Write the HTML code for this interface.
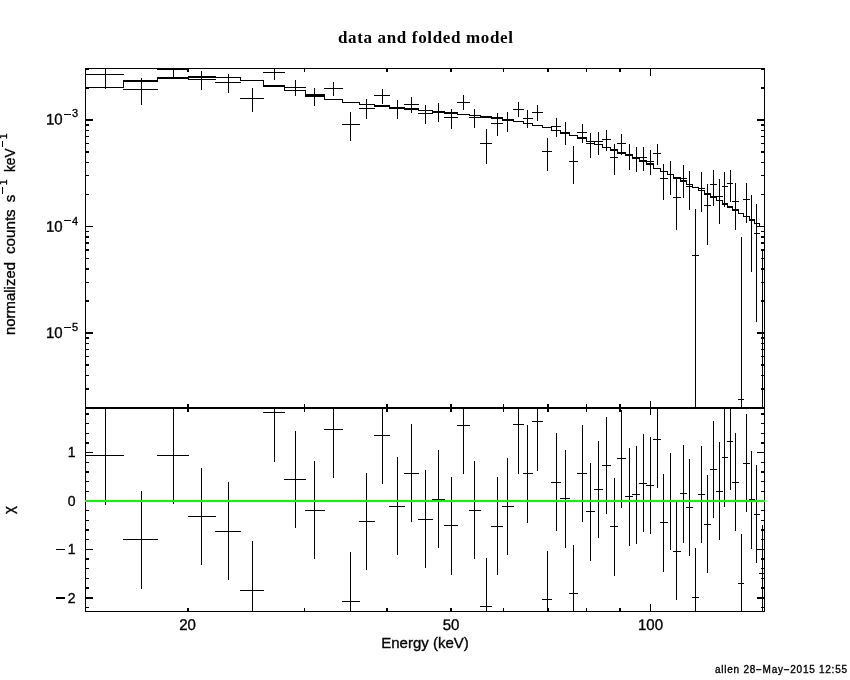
<!DOCTYPE html><html><head><meta charset="utf-8"><title>data and folded model</title>
<style>html,body{margin:0;padding:0;background:#fff;overflow:hidden}svg{display:block}text{font-family:"Liberation Sans",sans-serif;fill:#000}</style></head><body>
<svg width="850" height="680" viewBox="0 0 850 680">
<rect x="0" y="0" width="850" height="680" fill="#fff"/>
<g shape-rendering="crispEdges">
<rect x="85" y="68" width="680" height="1"/>
<rect x="85" y="611" width="680" height="1"/>
<rect x="85" y="68" width="1" height="544"/>
<rect x="764" y="68" width="1" height="544"/>
<rect x="85" y="407" width="680" height="2"/>
<rect x="105" y="68" width="1" height="21"/>
<rect x="85" y="74" width="39" height="1"/>
<rect x="141" y="78" width="1" height="27"/>
<rect x="123" y="89" width="35" height="1"/>
<rect x="173" y="68" width="1" height="10"/>
<rect x="157" y="69" width="32" height="1"/>
<rect x="201" y="71" width="1" height="19"/>
<rect x="188" y="79" width="28" height="1"/>
<rect x="228" y="74" width="1" height="19"/>
<rect x="215" y="82" width="26" height="1"/>
<rect x="252" y="88" width="1" height="24"/>
<rect x="240" y="98" width="24" height="1"/>
<rect x="274" y="68" width="1" height="12"/>
<rect x="263" y="72" width="22" height="1"/>
<rect x="295" y="80" width="1" height="16"/>
<rect x="284" y="87" width="22" height="1"/>
<rect x="314" y="88" width="1" height="18"/>
<rect x="305" y="96" width="20" height="1"/>
<rect x="333" y="82" width="1" height="14"/>
<rect x="324" y="88" width="19" height="1"/>
<rect x="350" y="112" width="1" height="29"/>
<rect x="342" y="124" width="18" height="1"/>
<rect x="366" y="99" width="1" height="20"/>
<rect x="359" y="108" width="16" height="1"/>
<rect x="382" y="89" width="1" height="15"/>
<rect x="374" y="95" width="16" height="1"/>
<rect x="397" y="100" width="1" height="19"/>
<rect x="389" y="108" width="16" height="1"/>
<rect x="411" y="97" width="1" height="16"/>
<rect x="404" y="104" width="15" height="1"/>
<rect x="425" y="105" width="1" height="19"/>
<rect x="418" y="113" width="15" height="1"/>
<rect x="438" y="103" width="1" height="19"/>
<rect x="432" y="111" width="13" height="1"/>
<rect x="451" y="109" width="1" height="20"/>
<rect x="444" y="117" width="14" height="1"/>
<rect x="463" y="95" width="1" height="15"/>
<rect x="457" y="102" width="13" height="1"/>
<rect x="474" y="109" width="1" height="19"/>
<rect x="469" y="117" width="12" height="1"/>
<rect x="486" y="129" width="1" height="35"/>
<rect x="480" y="143" width="12" height="1"/>
<rect x="497" y="113" width="1" height="23"/>
<rect x="491" y="123" width="12" height="1"/>
<rect x="507" y="112" width="1" height="20"/>
<rect x="502" y="120" width="12" height="1"/>
<rect x="518" y="102" width="1" height="15"/>
<rect x="513" y="109" width="11" height="1"/>
<rect x="527" y="110" width="1" height="18"/>
<rect x="523" y="118" width="10" height="1"/>
<rect x="537" y="105" width="1" height="16"/>
<rect x="532" y="112" width="11" height="1"/>
<rect x="547" y="138" width="1" height="33"/>
<rect x="542" y="151" width="10" height="1"/>
<rect x="556" y="118" width="1" height="19"/>
<rect x="551" y="126" width="10" height="1"/>
<rect x="565" y="122" width="1" height="23"/>
<rect x="560" y="133" width="10" height="1"/>
<rect x="573" y="146" width="1" height="38"/>
<rect x="569" y="161" width="9" height="1"/>
<rect x="582" y="124" width="1" height="19"/>
<rect x="577" y="132" width="10" height="1"/>
<rect x="590" y="133" width="1" height="25"/>
<rect x="586" y="143" width="9" height="1"/>
<rect x="598" y="132" width="1" height="23"/>
<rect x="594" y="141" width="9" height="1"/>
<rect x="606" y="130" width="1" height="21"/>
<rect x="602" y="139" width="9" height="1"/>
<rect x="614" y="144" width="1" height="31"/>
<rect x="610" y="157" width="8" height="1"/>
<rect x="621" y="134" width="1" height="21"/>
<rect x="617" y="143" width="9" height="1"/>
<rect x="629" y="144" width="1" height="26"/>
<rect x="625" y="155" width="8" height="1"/>
<rect x="636" y="147" width="1" height="25"/>
<rect x="632" y="158" width="8" height="1"/>
<rect x="643" y="147" width="1" height="24"/>
<rect x="639" y="157" width="8" height="1"/>
<rect x="650" y="150" width="1" height="25"/>
<rect x="646" y="161" width="8" height="1"/>
<rect x="657" y="144" width="1" height="21"/>
<rect x="653" y="153" width="8" height="1"/>
<rect x="663" y="164" width="1" height="36"/>
<rect x="660" y="178" width="8" height="1"/>
<rect x="670" y="161" width="1" height="34"/>
<rect x="667" y="174" width="7" height="1"/>
<rect x="676" y="178" width="1" height="52"/>
<rect x="673" y="197" width="8" height="1"/>
<rect x="683" y="165" width="1" height="33"/>
<rect x="680" y="178" width="7" height="1"/>
<rect x="689" y="171" width="1" height="39"/>
<rect x="686" y="186" width="7" height="1"/>
<rect x="695" y="209" width="1" height="198"/>
<rect x="692" y="255" width="7" height="1"/>
<rect x="701" y="172" width="1" height="40"/>
<rect x="698" y="188" width="7" height="1"/>
<rect x="707" y="184" width="1" height="61"/>
<rect x="704" y="205" width="7" height="1"/>
<rect x="713" y="170" width="1" height="36"/>
<rect x="710" y="184" width="7" height="1"/>
<rect x="719" y="179" width="1" height="45"/>
<rect x="716" y="196" width="7" height="1"/>
<rect x="724" y="172" width="1" height="35"/>
<rect x="722" y="186" width="6" height="1"/>
<rect x="730" y="170" width="1" height="32"/>
<rect x="727" y="183" width="6" height="1"/>
<rect x="735" y="183" width="1" height="47"/>
<rect x="732" y="201" width="7" height="1"/>
<rect x="741" y="237" width="1" height="170"/>
<rect x="738" y="399" width="6" height="1"/>
<rect x="746" y="183" width="1" height="40"/>
<rect x="743" y="199" width="7" height="1"/>
<rect x="751" y="195" width="1" height="77"/>
<rect x="749" y="220" width="6" height="1"/>
<rect x="756" y="204" width="1" height="118"/>
<rect x="754" y="233" width="6" height="1"/>
<rect x="762" y="249" width="1" height="158"/>
<rect x="85" y="87" width="39" height="1"/>
<rect x="123" y="80" width="35" height="2"/>
<rect x="123" y="80" width="1" height="8"/>
<rect x="157" y="77" width="32" height="2"/>
<rect x="157" y="77" width="1" height="5"/>
<rect x="188" y="76" width="28" height="2"/>
<rect x="188" y="76" width="1" height="3"/>
<rect x="215" y="77" width="26" height="1"/>
<rect x="215" y="76" width="1" height="2"/>
<rect x="240" y="80" width="24" height="1"/>
<rect x="240" y="77" width="1" height="4"/>
<rect x="263" y="85" width="22" height="2"/>
<rect x="263" y="80" width="1" height="7"/>
<rect x="284" y="90" width="22" height="1"/>
<rect x="284" y="85" width="1" height="6"/>
<rect x="305" y="94" width="20" height="2"/>
<rect x="305" y="90" width="1" height="6"/>
<rect x="324" y="99" width="19" height="1"/>
<rect x="324" y="94" width="1" height="6"/>
<rect x="342" y="102" width="18" height="1"/>
<rect x="342" y="99" width="1" height="4"/>
<rect x="359" y="104" width="16" height="1"/>
<rect x="359" y="102" width="1" height="3"/>
<rect x="374" y="105" width="16" height="2"/>
<rect x="374" y="104" width="1" height="3"/>
<rect x="389" y="107" width="16" height="2"/>
<rect x="389" y="105" width="1" height="4"/>
<rect x="404" y="108" width="15" height="2"/>
<rect x="404" y="107" width="1" height="3"/>
<rect x="418" y="110" width="15" height="1"/>
<rect x="418" y="108" width="1" height="3"/>
<rect x="432" y="111" width="13" height="2"/>
<rect x="432" y="110" width="1" height="3"/>
<rect x="444" y="112" width="14" height="2"/>
<rect x="444" y="111" width="1" height="3"/>
<rect x="457" y="114" width="13" height="1"/>
<rect x="457" y="112" width="1" height="3"/>
<rect x="469" y="115" width="12" height="1"/>
<rect x="469" y="114" width="1" height="2"/>
<rect x="480" y="116" width="12" height="2"/>
<rect x="480" y="115" width="1" height="3"/>
<rect x="491" y="117" width="12" height="2"/>
<rect x="491" y="116" width="1" height="3"/>
<rect x="502" y="119" width="12" height="2"/>
<rect x="502" y="117" width="1" height="4"/>
<rect x="513" y="121" width="11" height="1"/>
<rect x="513" y="119" width="1" height="3"/>
<rect x="523" y="123" width="10" height="1"/>
<rect x="523" y="121" width="1" height="3"/>
<rect x="532" y="125" width="11" height="1"/>
<rect x="532" y="123" width="1" height="3"/>
<rect x="542" y="127" width="10" height="1"/>
<rect x="542" y="125" width="1" height="3"/>
<rect x="551" y="130" width="10" height="1"/>
<rect x="551" y="127" width="1" height="4"/>
<rect x="560" y="132" width="10" height="2"/>
<rect x="560" y="130" width="1" height="4"/>
<rect x="569" y="135" width="9" height="1"/>
<rect x="569" y="132" width="1" height="4"/>
<rect x="577" y="137" width="10" height="2"/>
<rect x="577" y="135" width="1" height="4"/>
<rect x="586" y="141" width="9" height="1"/>
<rect x="586" y="137" width="1" height="5"/>
<rect x="594" y="144" width="9" height="1"/>
<rect x="594" y="141" width="1" height="4"/>
<rect x="602" y="147" width="9" height="1"/>
<rect x="602" y="144" width="1" height="4"/>
<rect x="610" y="149" width="8" height="2"/>
<rect x="610" y="147" width="1" height="4"/>
<rect x="617" y="152" width="9" height="2"/>
<rect x="617" y="149" width="1" height="5"/>
<rect x="625" y="154" width="8" height="2"/>
<rect x="625" y="152" width="1" height="4"/>
<rect x="632" y="157" width="8" height="2"/>
<rect x="632" y="154" width="1" height="5"/>
<rect x="639" y="160" width="8" height="2"/>
<rect x="639" y="157" width="1" height="5"/>
<rect x="646" y="163" width="8" height="2"/>
<rect x="646" y="160" width="1" height="5"/>
<rect x="653" y="168" width="8" height="1"/>
<rect x="653" y="163" width="1" height="6"/>
<rect x="660" y="171" width="8" height="1"/>
<rect x="660" y="168" width="1" height="4"/>
<rect x="667" y="174" width="7" height="1"/>
<rect x="667" y="171" width="1" height="4"/>
<rect x="673" y="177" width="8" height="2"/>
<rect x="673" y="174" width="1" height="5"/>
<rect x="680" y="180" width="7" height="2"/>
<rect x="680" y="177" width="1" height="5"/>
<rect x="686" y="184" width="7" height="1"/>
<rect x="686" y="180" width="1" height="5"/>
<rect x="692" y="187" width="7" height="1"/>
<rect x="692" y="184" width="1" height="4"/>
<rect x="698" y="190" width="7" height="1"/>
<rect x="698" y="187" width="1" height="4"/>
<rect x="704" y="193" width="7" height="2"/>
<rect x="704" y="190" width="1" height="5"/>
<rect x="710" y="196" width="7" height="2"/>
<rect x="710" y="193" width="1" height="5"/>
<rect x="716" y="200" width="7" height="1"/>
<rect x="716" y="196" width="1" height="5"/>
<rect x="722" y="203" width="6" height="2"/>
<rect x="722" y="200" width="1" height="5"/>
<rect x="727" y="206" width="6" height="2"/>
<rect x="727" y="203" width="1" height="5"/>
<rect x="732" y="209" width="7" height="2"/>
<rect x="732" y="206" width="1" height="5"/>
<rect x="738" y="213" width="6" height="1"/>
<rect x="738" y="209" width="1" height="5"/>
<rect x="743" y="216" width="7" height="1"/>
<rect x="743" y="213" width="1" height="4"/>
<rect x="749" y="219" width="6" height="2"/>
<rect x="749" y="216" width="1" height="5"/>
<rect x="754" y="223" width="6" height="1"/>
<rect x="754" y="219" width="1" height="5"/>
<rect x="759" y="226" width="6" height="1"/>
<rect x="759" y="223" width="1" height="4"/>
<rect x="105" y="408" width="1" height="97"/>
<rect x="85" y="455" width="39" height="1"/>
<rect x="141" y="491" width="1" height="98"/>
<rect x="123" y="539" width="35" height="1"/>
<rect x="173" y="408" width="1" height="96"/>
<rect x="157" y="455" width="32" height="1"/>
<rect x="201" y="468" width="1" height="97"/>
<rect x="188" y="516" width="28" height="1"/>
<rect x="228" y="482" width="1" height="98"/>
<rect x="215" y="531" width="26" height="1"/>
<rect x="252" y="541" width="1" height="71"/>
<rect x="240" y="590" width="24" height="1"/>
<rect x="274" y="408" width="1" height="54"/>
<rect x="263" y="412" width="22" height="1"/>
<rect x="295" y="431" width="1" height="97"/>
<rect x="284" y="479" width="22" height="1"/>
<rect x="314" y="461" width="1" height="98"/>
<rect x="305" y="510" width="20" height="1"/>
<rect x="333" y="408" width="1" height="70"/>
<rect x="324" y="429" width="19" height="1"/>
<rect x="350" y="552" width="1" height="60"/>
<rect x="342" y="601" width="18" height="1"/>
<rect x="366" y="473" width="1" height="97"/>
<rect x="359" y="521" width="16" height="1"/>
<rect x="382" y="408" width="1" height="76"/>
<rect x="374" y="435" width="16" height="1"/>
<rect x="397" y="457" width="1" height="98"/>
<rect x="389" y="506" width="16" height="1"/>
<rect x="411" y="424" width="1" height="98"/>
<rect x="404" y="473" width="15" height="1"/>
<rect x="425" y="470" width="1" height="98"/>
<rect x="418" y="519" width="15" height="1"/>
<rect x="438" y="450" width="1" height="98"/>
<rect x="432" y="499" width="13" height="1"/>
<rect x="451" y="477" width="1" height="98"/>
<rect x="444" y="525" width="14" height="1"/>
<rect x="463" y="408" width="1" height="66"/>
<rect x="457" y="425" width="13" height="1"/>
<rect x="474" y="461" width="1" height="98"/>
<rect x="469" y="510" width="12" height="1"/>
<rect x="486" y="558" width="1" height="54"/>
<rect x="480" y="606" width="12" height="1"/>
<rect x="497" y="477" width="1" height="98"/>
<rect x="491" y="526" width="12" height="1"/>
<rect x="507" y="458" width="1" height="97"/>
<rect x="502" y="506" width="12" height="1"/>
<rect x="518" y="408" width="1" height="66"/>
<rect x="513" y="424" width="11" height="1"/>
<rect x="527" y="425" width="1" height="98"/>
<rect x="523" y="473" width="10" height="1"/>
<rect x="537" y="408" width="1" height="63"/>
<rect x="532" y="421" width="11" height="1"/>
<rect x="547" y="551" width="1" height="61"/>
<rect x="542" y="599" width="10" height="1"/>
<rect x="556" y="433" width="1" height="98"/>
<rect x="551" y="482" width="10" height="1"/>
<rect x="565" y="450" width="1" height="98"/>
<rect x="560" y="498" width="10" height="1"/>
<rect x="573" y="545" width="1" height="67"/>
<rect x="569" y="593" width="9" height="1"/>
<rect x="582" y="425" width="1" height="97"/>
<rect x="577" y="473" width="10" height="1"/>
<rect x="590" y="463" width="1" height="98"/>
<rect x="586" y="511" width="9" height="1"/>
<rect x="598" y="441" width="1" height="97"/>
<rect x="594" y="489" width="9" height="1"/>
<rect x="606" y="417" width="1" height="97"/>
<rect x="602" y="465" width="9" height="1"/>
<rect x="614" y="478" width="1" height="98"/>
<rect x="610" y="526" width="8" height="1"/>
<rect x="621" y="410" width="1" height="98"/>
<rect x="617" y="458" width="9" height="1"/>
<rect x="629" y="448" width="1" height="98"/>
<rect x="625" y="496" width="8" height="1"/>
<rect x="636" y="446" width="1" height="98"/>
<rect x="632" y="494" width="8" height="1"/>
<rect x="643" y="434" width="1" height="98"/>
<rect x="639" y="483" width="8" height="1"/>
<rect x="650" y="437" width="1" height="97"/>
<rect x="646" y="485" width="8" height="1"/>
<rect x="657" y="408" width="1" height="80"/>
<rect x="653" y="439" width="8" height="1"/>
<rect x="663" y="474" width="1" height="98"/>
<rect x="660" y="522" width="8" height="1"/>
<rect x="670" y="453" width="1" height="97"/>
<rect x="667" y="501" width="7" height="1"/>
<rect x="676" y="502" width="1" height="98"/>
<rect x="673" y="551" width="8" height="1"/>
<rect x="683" y="445" width="1" height="98"/>
<rect x="680" y="493" width="7" height="1"/>
<rect x="689" y="459" width="1" height="97"/>
<rect x="686" y="507" width="7" height="1"/>
<rect x="695" y="548" width="1" height="64"/>
<rect x="692" y="597" width="7" height="1"/>
<rect x="701" y="446" width="1" height="97"/>
<rect x="698" y="494" width="7" height="1"/>
<rect x="707" y="475" width="1" height="98"/>
<rect x="704" y="524" width="7" height="1"/>
<rect x="713" y="421" width="1" height="97"/>
<rect x="710" y="469" width="7" height="1"/>
<rect x="719" y="442" width="1" height="98"/>
<rect x="716" y="491" width="7" height="1"/>
<rect x="724" y="409" width="1" height="98"/>
<rect x="722" y="457" width="6" height="1"/>
<rect x="730" y="408" width="1" height="82"/>
<rect x="727" y="441" width="6" height="1"/>
<rect x="735" y="433" width="1" height="98"/>
<rect x="732" y="482" width="7" height="1"/>
<rect x="741" y="534" width="1" height="78"/>
<rect x="738" y="583" width="6" height="1"/>
<rect x="746" y="414" width="1" height="98"/>
<rect x="743" y="463" width="7" height="1"/>
<rect x="751" y="451" width="1" height="98"/>
<rect x="749" y="499" width="6" height="1"/>
<rect x="756" y="465" width="1" height="98"/>
<rect x="754" y="514" width="6" height="1"/>
<rect x="762" y="525" width="1" height="87"/>
<rect x="759" y="573" width="6" height="1"/>
<rect x="85" y="388" width="4" height="2"/>
<rect x="761" y="388" width="4" height="2"/>
<rect x="85" y="375" width="4" height="1"/>
<rect x="761" y="375" width="4" height="1"/>
<rect x="85" y="364" width="4" height="2"/>
<rect x="761" y="364" width="4" height="2"/>
<rect x="85" y="356" width="4" height="1"/>
<rect x="761" y="356" width="4" height="1"/>
<rect x="85" y="349" width="4" height="1"/>
<rect x="761" y="349" width="4" height="1"/>
<rect x="85" y="343" width="4" height="1"/>
<rect x="761" y="343" width="4" height="1"/>
<rect x="85" y="337" width="4" height="2"/>
<rect x="761" y="337" width="4" height="2"/>
<rect x="85" y="332" width="8" height="2"/>
<rect x="757" y="332" width="8" height="2"/>
<rect x="85" y="300" width="4" height="2"/>
<rect x="761" y="300" width="4" height="2"/>
<rect x="85" y="282" width="4" height="1"/>
<rect x="761" y="282" width="4" height="1"/>
<rect x="85" y="268" width="4" height="2"/>
<rect x="761" y="268" width="4" height="2"/>
<rect x="85" y="258" width="4" height="1"/>
<rect x="761" y="258" width="4" height="1"/>
<rect x="85" y="249" width="4" height="2"/>
<rect x="761" y="249" width="4" height="2"/>
<rect x="85" y="242" width="4" height="2"/>
<rect x="761" y="242" width="4" height="2"/>
<rect x="85" y="236" width="4" height="2"/>
<rect x="761" y="236" width="4" height="2"/>
<rect x="85" y="231" width="4" height="1"/>
<rect x="761" y="231" width="4" height="1"/>
<rect x="85" y="226" width="8" height="1"/>
<rect x="757" y="226" width="8" height="1"/>
<rect x="85" y="194" width="4" height="1"/>
<rect x="761" y="194" width="4" height="1"/>
<rect x="85" y="175" width="4" height="1"/>
<rect x="761" y="175" width="4" height="1"/>
<rect x="85" y="162" width="4" height="1"/>
<rect x="761" y="162" width="4" height="1"/>
<rect x="85" y="151" width="4" height="2"/>
<rect x="761" y="151" width="4" height="2"/>
<rect x="85" y="143" width="4" height="1"/>
<rect x="761" y="143" width="4" height="1"/>
<rect x="85" y="136" width="4" height="1"/>
<rect x="761" y="136" width="4" height="1"/>
<rect x="85" y="130" width="4" height="1"/>
<rect x="761" y="130" width="4" height="1"/>
<rect x="85" y="124" width="4" height="2"/>
<rect x="761" y="124" width="4" height="2"/>
<rect x="85" y="119" width="8" height="2"/>
<rect x="757" y="119" width="8" height="2"/>
<rect x="85" y="87" width="4" height="2"/>
<rect x="761" y="87" width="4" height="2"/>
<rect x="85" y="68" width="4" height="2"/>
<rect x="761" y="68" width="4" height="2"/>
<rect x="85" y="607" width="4" height="1"/>
<rect x="761" y="607" width="4" height="1"/>
<rect x="85" y="597" width="8" height="2"/>
<rect x="757" y="597" width="8" height="2"/>
<rect x="85" y="587" width="4" height="2"/>
<rect x="761" y="587" width="4" height="2"/>
<rect x="85" y="578" width="4" height="1"/>
<rect x="761" y="578" width="4" height="1"/>
<rect x="85" y="568" width="4" height="1"/>
<rect x="761" y="568" width="4" height="1"/>
<rect x="85" y="558" width="4" height="2"/>
<rect x="761" y="558" width="4" height="2"/>
<rect x="85" y="549" width="8" height="1"/>
<rect x="757" y="549" width="8" height="1"/>
<rect x="85" y="539" width="4" height="1"/>
<rect x="761" y="539" width="4" height="1"/>
<rect x="85" y="529" width="4" height="2"/>
<rect x="761" y="529" width="4" height="2"/>
<rect x="85" y="520" width="4" height="1"/>
<rect x="761" y="520" width="4" height="1"/>
<rect x="85" y="510" width="4" height="1"/>
<rect x="761" y="510" width="4" height="1"/>
<rect x="85" y="501" width="8" height="1"/>
<rect x="757" y="501" width="8" height="1"/>
<rect x="85" y="491" width="4" height="1"/>
<rect x="761" y="491" width="4" height="1"/>
<rect x="85" y="481" width="4" height="1"/>
<rect x="761" y="481" width="4" height="1"/>
<rect x="85" y="471" width="4" height="2"/>
<rect x="761" y="471" width="4" height="2"/>
<rect x="85" y="462" width="4" height="1"/>
<rect x="761" y="462" width="4" height="1"/>
<rect x="85" y="452" width="8" height="1"/>
<rect x="757" y="452" width="8" height="1"/>
<rect x="85" y="442" width="4" height="2"/>
<rect x="761" y="442" width="4" height="2"/>
<rect x="85" y="433" width="4" height="1"/>
<rect x="761" y="433" width="4" height="1"/>
<rect x="85" y="423" width="4" height="1"/>
<rect x="761" y="423" width="4" height="1"/>
<rect x="85" y="413" width="4" height="2"/>
<rect x="761" y="413" width="4" height="2"/>
<rect x="187" y="68" width="2" height="4"/>
<rect x="187" y="608" width="2" height="4"/>
<rect x="187" y="404" width="2" height="8"/>
<rect x="304" y="68" width="1" height="4"/>
<rect x="304" y="608" width="1" height="4"/>
<rect x="304" y="404" width="1" height="8"/>
<rect x="386" y="68" width="2" height="4"/>
<rect x="386" y="608" width="2" height="4"/>
<rect x="386" y="404" width="2" height="8"/>
<rect x="450" y="68" width="2" height="4"/>
<rect x="450" y="608" width="2" height="4"/>
<rect x="450" y="404" width="2" height="8"/>
<rect x="503" y="68" width="1" height="4"/>
<rect x="503" y="608" width="1" height="4"/>
<rect x="503" y="404" width="1" height="8"/>
<rect x="547" y="68" width="2" height="4"/>
<rect x="547" y="608" width="2" height="4"/>
<rect x="547" y="404" width="2" height="8"/>
<rect x="586" y="68" width="1" height="4"/>
<rect x="586" y="608" width="1" height="4"/>
<rect x="586" y="404" width="1" height="8"/>
<rect x="619" y="68" width="2" height="4"/>
<rect x="619" y="608" width="2" height="4"/>
<rect x="619" y="404" width="2" height="8"/>
<rect x="650" y="68" width="1" height="8"/>
<rect x="650" y="604" width="1" height="8"/>
<rect x="650" y="401" width="1" height="14"/>
<rect x="85" y="500" width="680" height="2" fill="#00ff00"/>
<rect x="64" y="114" width="7" height="1"/>
<rect x="64" y="220" width="7" height="1"/>
<rect x="64" y="327" width="7" height="1"/>
<rect x="56" y="549" width="9" height="1"/>
<rect x="56" y="597" width="9" height="2"/>
<rect x="2" y="187" width="1" height="7"/>
<rect x="2" y="141" width="1" height="6"/>
</g>
<g opacity="0.999" stroke="#000" stroke-width="0.35">
<text x="425.5" y="43" font-size="17" text-anchor="middle" style="font-family:&quot;Liberation Serif&quot;,serif;font-weight:bold;stroke:none" textLength="175" lengthAdjust="spacing">data and folded model</text>
<g transform="translate(46,124.60000000000001) scale(1,1.03) rotate(0.03)"><text x="0" y="0" font-size="15" text-anchor="start" >10</text></g>
<text x="72" y="117.4" font-size="11" text-anchor="start" >3</text>
<g transform="translate(46,231.8) scale(1,1.03) rotate(0.03)"><text x="0" y="0" font-size="15" text-anchor="start" >10</text></g>
<text x="72" y="224.6" font-size="11" text-anchor="start" >4</text>
<g transform="translate(46,337.9) scale(1,1.03) rotate(0.03)"><text x="0" y="0" font-size="15" text-anchor="start" >10</text></g>
<text x="72" y="330.7" font-size="11" text-anchor="start" >5</text>
<text x="75.5" y="457.3" font-size="14" text-anchor="end" >1</text>
<text x="75.5" y="505.8" font-size="14" text-anchor="end" >0</text>
<text x="75.5" y="554.3" font-size="14" text-anchor="end" >1</text>
<text x="75.5" y="602.8" font-size="14" text-anchor="end" >2</text>
<g transform="translate(187.5,630) scale(1,1.03) rotate(0.03)"><text x="0" y="0" font-size="15" text-anchor="middle" >20</text></g>
<g transform="translate(451,630) scale(1,1.03) rotate(0.03)"><text x="0" y="0" font-size="15" text-anchor="middle" >50</text></g>
<g transform="translate(650.5,630) scale(1,1.03) rotate(0.03)"><text x="0" y="0" font-size="15" text-anchor="middle" >100</text></g>
<text x="425" y="648" font-size="15" text-anchor="middle" >Energy (keV)</text>
<text x="847" y="673" font-size="10" text-anchor="end" textLength="132" lengthAdjust="spacing">allen 28&#8722;May&#8722;2015 12:55</text>
<g transform="translate(15,335) rotate(-90)"><text x="0" y="0" font-size="15" textLength="73" lengthAdjust="spacingAndGlyphs">normalized</text><text x="81" y="0" font-size="15" textLength="44.7" lengthAdjust="spacingAndGlyphs">counts</text><text x="132.7" y="0" font-size="15">s</text><text x="150" y="-8.5" font-size="10">1</text><text x="163" y="0" font-size="15" textLength="23.5" lengthAdjust="spacingAndGlyphs">keV</text><text x="196" y="-8.5" font-size="10">1</text></g>
<g transform="translate(14,514) rotate(-90)"><text x="0" y="0" font-size="15">&#967;</text></g>
</g>
</svg></body></html>
